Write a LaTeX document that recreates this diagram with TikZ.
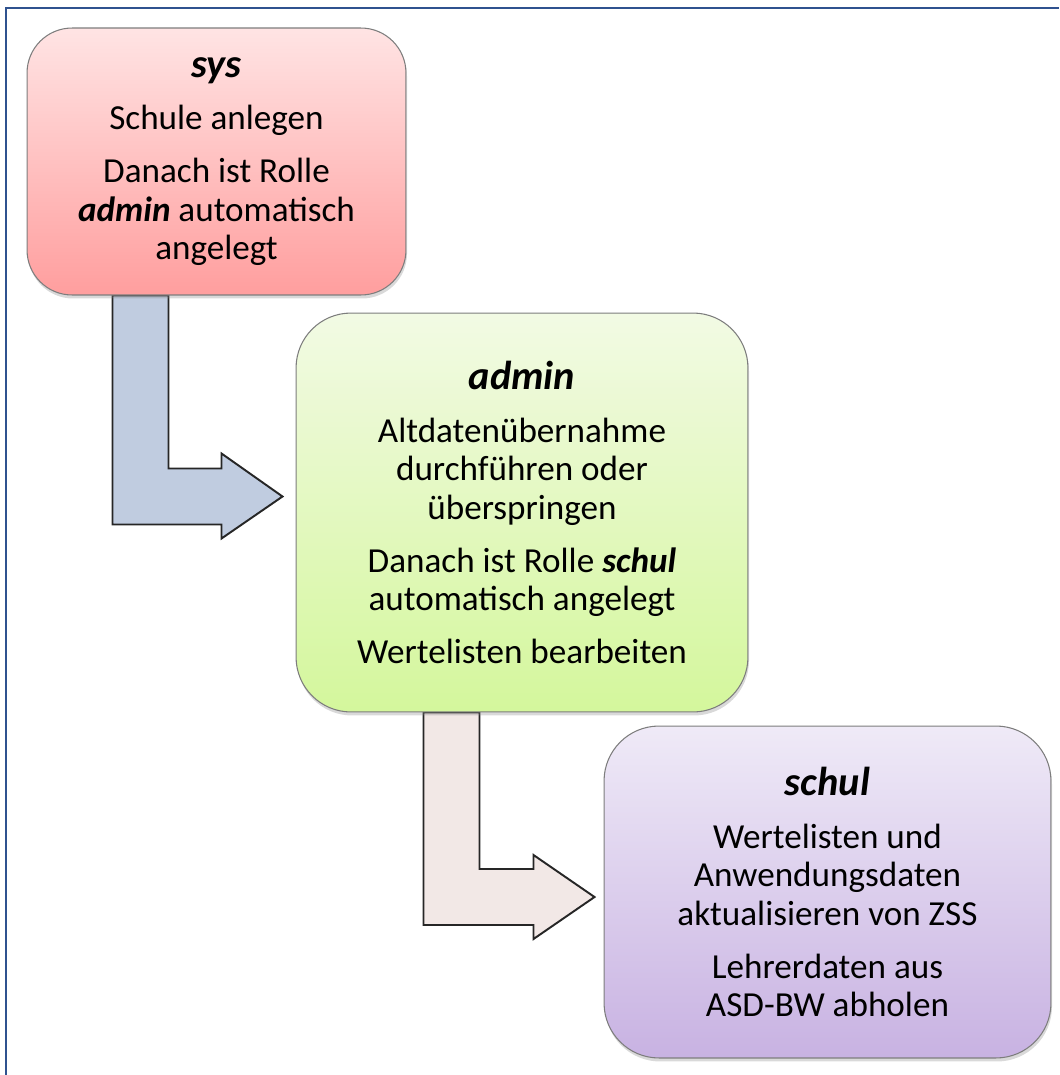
\documentclass[tikz,border=0pt]{standalone}
\usepackage{fontspec}
\setmainfont{Carlito}
\usetikzlibrary{calc,shadows,backgrounds}

\definecolor{frameBlue}{RGB}{47,82,143}
\definecolor{boxBorder}{RGB}{125,125,125}
\definecolor{sysTop}{RGB}{255,228,228}
\definecolor{sysBottom}{RGB}{255,158,158}
\definecolor{adminTop}{RGB}{242,250,228}
\definecolor{adminBottom}{RGB}{212,247,156}
\definecolor{schulTop}{RGB}{239,234,247}
\definecolor{schulBottom}{RGB}{200,178,226}
\definecolor{arrowBlue}{RGB}{192,204,224}
\definecolor{arrowPink}{RGB}{242,232,230}

\newcommand{\role}[1]{{\fontsize{23}{22}\selectfont\bfseries\itshape #1}}

\begin{document}
\begin{tikzpicture}[
		x=0.02cm, y=-0.02cm,
		box/.style={rectangle, draw=boxBorder, line width=0.6pt, rounded corners=1.1cm, inner sep=0pt, align=center, font=\fontsize{20}{22}\selectfont, drop shadow={shadow xshift=0.6pt, shadow yshift=-2pt, opacity=0.3}},
		blockarrow/.style={draw=black!85, line width=1.1pt, line join=miter},
		pageframe/.style={draw=frameBlue, line width=1.2pt}
		]
		
		\useasboundingbox (0,0) rectangle (1059,1075);
		\draw[pageframe] (6,1075) -- (6,8) -- (1059,8);
		
		\node (sys) at (216.5,161.5) [box, rounded corners=0.9cm, minimum width=7.58cm, minimum height=5.34cm, top color=sysTop, bottom color=sysBottom] {\role{sys}\\[8pt] Schule anlegen\\[8pt] Danach ist Rolle\\ \textbf{\textit{admin}} automatisch\\ angelegt};
		\node (admin) at (522,512.5) [box, minimum width=9.04cm, minimum height=7.98cm, top color=adminTop, bottom color=adminBottom] {\role{admin}\\[8pt] Altdatenübernahme\\ durchführen oder\\ überspringen\\[8pt] Danach ist Rolle \textbf{\textit{schul}}\\ automatisch angelegt\\[8pt] Wertelisten bearbeiten};
		\node (schul) at (827.5,892) [box, minimum width=8.94cm, minimum height=6.64cm, top color=schulTop, bottom color=schulBottom] {\role{schul}\\[8pt] Wertelisten und\\ Anwendungsdaten\\ aktualisieren von ZSS\\[8pt] Lehrerdaten aus\\ ASD-BW abholen};
		
		\begin{scope}[on background layer]
			\coordinate (top1) at ($(sys.south west)+(86,0)$);
			\coordinate (tip1) at ($(admin.west)+(-13,-16)$);
			\draw[blockarrow, fill=arrowBlue] (top1) -- ++(56,0) |- ($(tip1)+(-61,-28)$) -- ++(0,-15) -- (tip1) -- ++(-61,42) -- ++(0,-14) -| (top1) -- cycle;
			\coordinate (top2) at ($(admin.south west)+(128,0)$);
			\coordinate (tip2) at ($(schul.west)+(-9,5)$);
			\draw[blockarrow, fill=arrowPink] (top2) -- ++(56,0) |- ($(tip2)+(-61,-28)$) -- ++(0,-14) -- (tip2) -- ++(-61,42) -- ++(0,-14) -| (top2) -- cycle;
		\end{scope}
	\end{tikzpicture}
\end{document}
